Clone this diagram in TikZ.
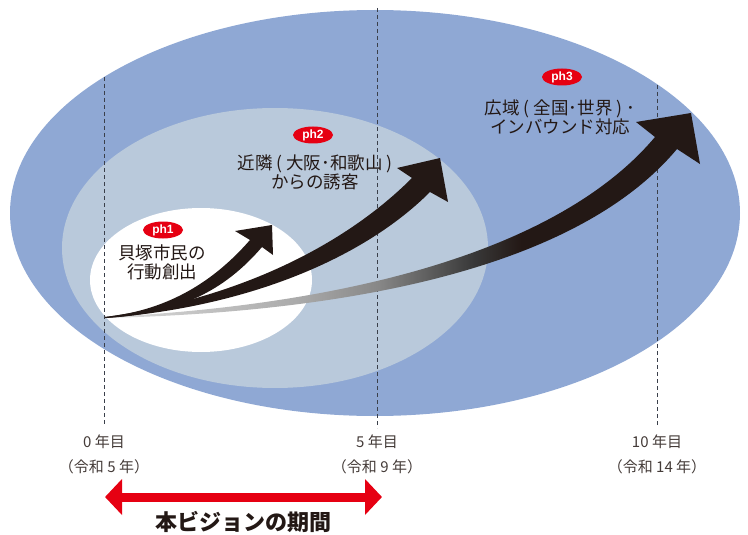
\documentclass[tikz,border=0pt]{standalone}
\usepackage{fontspec}
\setmainfont{Noto Sans CJK JP}
\newfontfamily\latinbold{Liberation Sans}
\usetikzlibrary{arrows.meta,shapes.geometric}
\definecolor{bigblue}{HTML}{8FA8D4}
\definecolor{midblue}{HTML}{B9C9DB}
\definecolor{badgered}{HTML}{E60012}
\definecolor{dashgray}{HTML}{3A3F4A}
\definecolor{txt}{HTML}{231815}
\pgfdeclarehorizontalshading{fadeband}{100bp}{color(0bp)=(black!8); color(25bp)=(black!10); color(30bp)=(black!20); color(41bp)=(black!33); color(48bp)=(black!47); color(56bp)=(black!78); color(60bp)=(txt); color(100bp)=(txt)}
\tikzset{
  badge/.style={ellipse, fill=badgered, minimum width=40pt, minimum height=17pt, inner sep=0pt,
    text=white, font=\latinbold\bfseries\fontsize{12}{12}\selectfont},
  phasetext/.style={align=center, text=txt, inner sep=0pt, font=\fontsize{17.5}{19}\selectfont},
  yeartext/.style={align=center, text=txt!85, inner sep=0pt, font=\fontsize{15}{15}\selectfont},
  guide/.style={dashgray, dashed, dash pattern=on 4pt off 3pt, line width=0.7pt},
}
\begin{document}
\begin{tikzpicture}[x=1pt,y=-1pt]
\useasboundingbox (0,0) rectangle (748,535);
% ellipses
\fill[bigblue] (375,213) ellipse [x radius=365pt, y radius=203pt];
\fill[midblue] (275,248) ellipse [x radius=213pt, y radius=140pt];
\fill[white] (201,280) ellipse [x radius=111pt, y radius=72pt];
% guide coordinates
\coordinate (g0t) at (104,77);  \coordinate (g0b) at (104,425);
\coordinate (g5t) at (377,8);   \coordinate (g5b) at (377,428);
\coordinate (g10t) at (657,85); \coordinate (g10b) at (657,425);
\draw[guide] (g0t) -- (g0b);
\draw[guide] (g5t) -- (g5b);
\draw[guide] (g10t) -- (g10b);
% arrow 3 (faded)
\coordinate (o) at (105,317);
\shade[shading=fadeband]
  (o) .. controls (350,305) and (560,250) .. (655,137)
  -- (636,122) -- (691,113) -- (700,164) -- (677,149)
  .. controls (580,265) and (360,312) .. (105,318) -- cycle;
% arrow 2
\fill[txt]
  (o) .. controls (230,300) and (340,250) .. (412,178)
  -- (397,168) -- (440,158) -- (448,202) -- (430,192)
  .. controls (360,262) and (240,308) .. (105,318) -- cycle;
% arrow 1
\fill[txt]
  (o) .. controls (170,310) and (215,280) .. (250,240)
  -- (235,231) -- (272,225) -- (273,255) -- (262,247)
  .. controls (225,290) and (180,314) .. (105,318) -- cycle;
% badges and texts
\node[badge] (b1) at (163,230) {ph1};
\node[badge] (b2) at (313,135) {ph2};
\node[badge] (b3) at (562,77) {ph3};
\node[phasetext] (t1) at (162,262) {貝塚市民の\\行動創出};
\node[phasetext] (t2) at (315,172) {近隣 ( 大阪･和歌山 )\\からの誘客};
\node[phasetext] (t3) at (560,117) {広域 ( 全国･世界 ) ･\\インバウンド対応};
% year labels
\node[yeartext] (y0) at (104,442) {0 年目};
\node[yeartext] (r0) at (104,467) {（令和 5 年）};
\node[yeartext] (y5) at (377,442) {5 年目};
\node[yeartext] (r5) at (377,467) {（令和 9 年）};
\node[yeartext] (y10) at (657,442) {10 年目};
\node[yeartext] (r10) at (657,467) {（令和 14 年）};
% period arrow
\coordinate (pa) at (105,497);
\coordinate (pb) at (382,497);
\draw[badgered, line width=9pt, {Triangle[length=17pt,width=35pt]}-{Triangle[length=17pt,width=35pt]}] (pa) -- (pb);
\node[text=txt, inner sep=0pt, font=\bfseries\fontsize{22}{22}\selectfont] (title) at (243,522) {本ビジョンの期間};
\end{tikzpicture}
\end{document}
